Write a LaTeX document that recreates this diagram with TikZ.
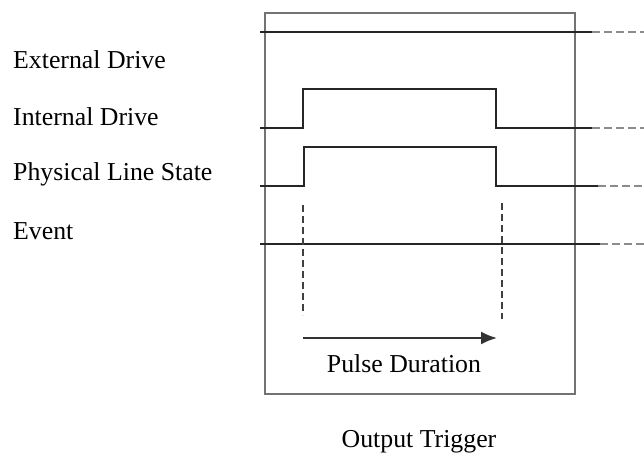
\documentclass[tikz,border=0pt]{standalone}
\usepackage{fontspec}
\setmainfont{Liberation Serif}
\usepackage{tikz}
\usetikzlibrary{positioning}
\usetikzlibrary{calc}
\usetikzlibrary{arrows.meta}

\begin{document}
\begin{tikzpicture}[x=1pt,y=-1pt]

% Define styles for different elements
\tikzstyle{label} = [anchor=west, inner sep=0pt, font=\fontsize{25.8}{30}\selectfont]
\tikzstyle{caption} = [inner sep=0pt, font=\fontsize{25.8}{30}\selectfont]
\tikzstyle{frame} = [draw=black!55, line width=1.5pt]
\tikzstyle{signal} = [draw=black!85, line width=2.2pt]
\tikzstyle{extend} = [draw=black!45, line width=2.2pt, dash pattern=on 8pt off 4pt]
\tikzstyle{marker} = [draw=black!75, line width=1.6pt, dash pattern=on 7pt off 4pt]
\tikzstyle{arrow} = [draw=black!80, line width=2pt, -{Latex[length=16pt,width=13pt]}]

\useasboundingbox (0,0) rectangle (644,455);

% Draw the frame
\draw [frame] (265,13) rectangle (575,394);

% Draw the labels
\node (ext) [label] at (13,60) {External Drive};
\node (int) [label] at (13,117) {Internal Drive};
\node (phy) [label] at (13,174) {Physical Line State};
\node (evt) [label] at (13,231) {Event};

% Draw the signals
\draw [signal] (260,32) -- (592,32);
\draw [extend] (592,32) -- (644,32);
\draw [signal] (260,128) -- (303,128) -- (303,89) -- (496,89) -- (496,128) -- (592,128);
\draw [extend] (592,128) -- (644,128);
\draw [signal] (260,186) -- (304,186) -- (304,147) -- (496,147) -- (496,186) -- (598,186);
\draw [extend] (598,186) -- (644,186);
\draw [signal] (260,244) -- (600,244);
\draw [extend] (600,244) -- (644,244);

% Draw the pulse markers
\coordinate (rise) at (303,205);
\coordinate (fall) at (502,203);
\draw [marker] (rise) -- (303,315);
\draw [marker] (fall) -- (502,319);
\coordinate (from) at (303,338);
\coordinate (to) at (497,338);
\draw [arrow] (from) -- (to);

% Add the captions
\node (dur) [caption] at (404,364) {Pulse Duration};
\node (out) [caption] at (419,442) {Output Trigger};
\end{tikzpicture}
\end{document}
